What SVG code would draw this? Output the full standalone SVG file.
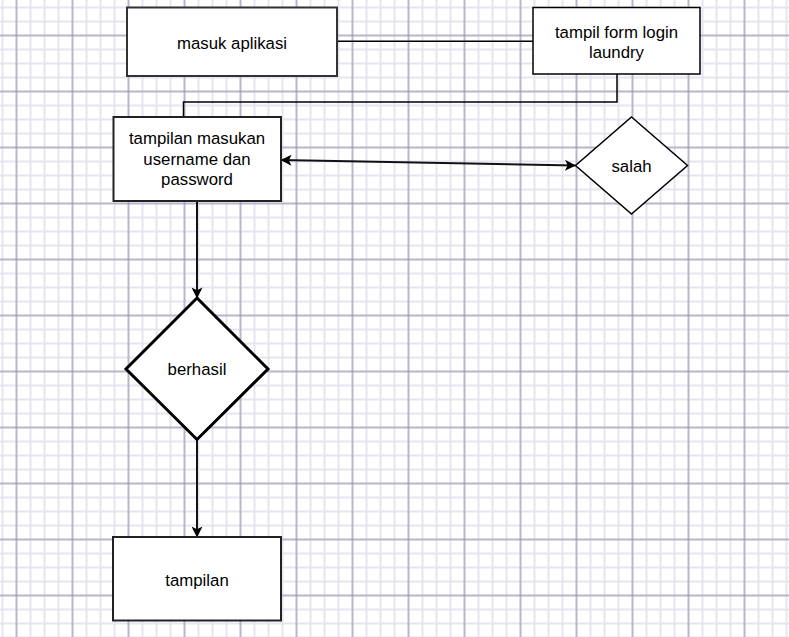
<svg xmlns="http://www.w3.org/2000/svg" width="789" height="637" viewBox="0 0 789 637">
  <defs>
    <pattern id="grid" patternUnits="userSpaceOnUse" x="9.5" y="28.5" width="56" height="56">
      <path d="M7,0V56M21,0V56M35,0V56M49,0V56M0,7H56M0,21H56M0,35H56M0,49H56" stroke="#e6e4ee" stroke-width="2" fill="none"/>
      <path d="M7,0V56M0,7H56" stroke="#8a88a6" stroke-width="1" fill="none"/>
    </pattern>
    <marker id="arrow" viewBox="0 0 12 12" refX="11.5" refY="6" markerWidth="12" markerHeight="11" markerUnits="userSpaceOnUse" orient="auto-start-reverse">
      <path d="M0,0 L12,6 L0,12 L3,6 Z" fill="#000"/>
    </marker>
    <style>
      .box { fill: #fff; stroke: #222; stroke-width: 2; }
      .label { font-family: "Liberation Sans", Arial, sans-serif; font-size: 16.8px; fill: #000; text-anchor: middle; }
      .conn { fill: none; stroke: #000; stroke-width: 1.5; }
      .arr { fill: none; stroke: #111; stroke-width: 2; }
    </style>
  </defs>
  <rect x="0" y="0" width="789" height="637" fill="#fff"/>
  <rect x="0" y="0" width="789" height="637" fill="url(#grid)"/>

  <g id="connectors">
    <path class="conn" d="M337,41.3 H533"/>
    <path class="conn" d="M617,74 V102 H183.5 V117"/>
    <path class="arr" d="M281,160 L575.5,165.5" marker-start="url(#arrow)" marker-end="url(#arrow)"/>
    <path class="arr" d="M197,201 V298" marker-end="url(#arrow)"/>
    <path class="arr" d="M197,439.5 V537" marker-end="url(#arrow)"/>
  </g>

  <g id="node-masuk">
    <rect class="box" x="127" y="7.5" width="210" height="68.5" style="stroke:#333"/>
    <text class="label" x="232" y="48.5">masuk aplikasi</text>
  </g>

  <g id="node-form">
    <rect class="box" x="533" y="7.5" width="167" height="66.5" style="stroke:#000;stroke-width:1.5"/>
    <text class="label" x="616.5" y="38">tampil form login</text>
    <text class="label" x="616.5" y="57.5">laundry</text>
  </g>

  <g id="node-input">
    <rect class="box" x="113.5" y="117" width="167.5" height="84"/>
    <text class="label" x="197" y="144">tampilan masukan</text>
    <text class="label" x="197" y="164.5">username dan</text>
    <text class="label" x="197" y="185">password</text>
  </g>

  <g id="node-salah">
    <path class="box" d="M631.5,117 L687.5,165.5 L631.5,214 L575.5,165.5 Z" style="stroke:#000;stroke-width:1.5"/>
    <text class="label" x="631.5" y="172">salah</text>
  </g>

  <g id="node-berhasil">
    <path class="box" d="M197,298 L268,369 L197,439.5 L126,369 Z" style="stroke:#000;stroke-width:3"/>
    <text class="label" x="197" y="375">berhasil</text>
  </g>

  <g id="node-tampilan">
    <rect class="box" x="113" y="537" width="168" height="83.5"/>
    <text class="label" x="197" y="586">tampilan</text>
  </g>
</svg>
